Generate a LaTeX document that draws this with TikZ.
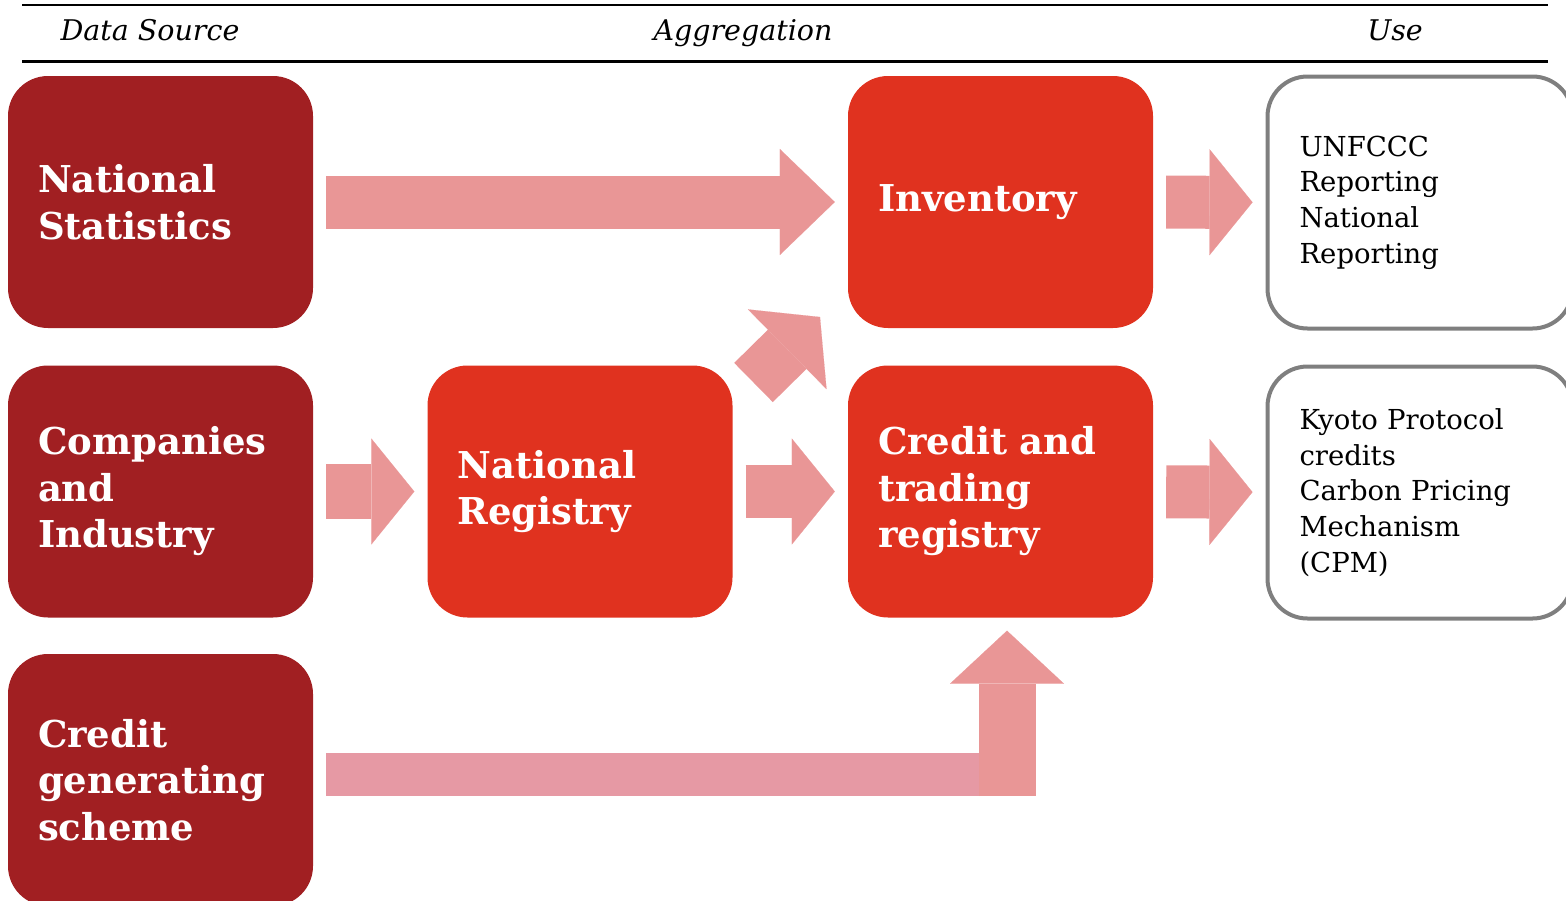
\documentclass[tikz,border=0pt]{standalone}
\usepackage{fontspec}
\setmainfont{DejaVu Serif}
\usetikzlibrary{arrows.meta}

\definecolor{source}{HTML}{A11F22}
\definecolor{aggregate}{HTML}{E0321F}
\definecolor{flowpink}{HTML}{E99696}
\definecolor{flowlow}{HTML}{E699A4}
\definecolor{useedge}{HTML}{7F7F7F}

\tikzset{
  block/.style={rounded corners=40pt, minimum width=305pt, minimum height=252pt,
    text width=245pt, inner xsep=30pt, align=left, text=white,
    font=\fontsize{37}{46.5}\selectfont\bfseries},
  srcbox/.style={block, fill=source},
  aggbox/.style={block, fill=aggregate},
  usebox/.style={block, fill=white, draw=useedge, line width=4pt, text=black,
    inner xsep=32pt, text width=241pt, font=\fontsize{27.5}{35.7}\selectfont},
  headtext/.style={anchor=base, font=\fontsize{28.5}{32}\selectfont\itshape},
  flow/.style={draw=flowpink, line width=53pt, shorten <=13pt, shorten >=13pt,
    -{Triangle[length=55pt, width=106pt, line width=0.1pt]}},
  shortflow/.style={flow, -{Triangle[length=43pt, width=106pt, line width=0.1pt]}},
}

\begin{document}
\begin{tikzpicture}[x=1pt, y=-1pt]
\useasboundingbox (0,0) rectangle (1566,900);

% Header rules and column titles
\draw[line width=1.5pt] (22,5) -- (1548,5);
\draw[line width=3pt] (22,61) -- (1548,61);
\node[headtext] (hsrc) at (150,40) {Data Source};
\node[headtext] (hagg) at (743,40) {Aggregation};
\node[headtext] (huse) at (1395,40) {Use};

% Data sources
\node[srcbox] (ns) at (160.5,202) {National\\Statistics};
\node[srcbox] (ci) at (160.5,491.5) {Companies\\and\\Industry};
\node[srcbox] (cgs) at (160.5,780) {Credit\\generating\\scheme};

% Aggregation
\node[aggbox] (nr) at (580,491.5) {National\\Registry};
\node[aggbox] (inv) at (1000.5,202) {Inventory};
\node[aggbox] (ctr) at (1000.5,491.5) {Credit and\\trading\\registry};

% Use
\node[usebox] (rep) at (1420,202.5) {UNFCCC\\Reporting\\National\\Reporting};
\node[usebox] (kyo) at (1420,492.5) {Kyoto Protocol\\credits\\Carbon Pricing\\Mechanism\\(CPM)};

% Flows
\draw[flow] (ns) -- (inv);
\draw[shortflow, line width=55pt] (ci) -- (nr);
\draw[shortflow] (nr) -- (ctr);
\draw[shortflow] (inv) -- (rep);
\draw[shortflow] (ctr) -- (kyo);

% Registry feeds inventory
\coordinate (dtail) at (753.5,382.5);
\coordinate (dtip) at (820,317);
\draw[flow, line width=55pt, shorten <=0pt, shorten >=0pt,
  -{Triangle[length=46pt, width=112pt, line width=0.1pt]}] (dtail) -- (dtip);

% Credits into the trading registry
\coordinate (elbow) at (1007,774.5);
\coordinate (foot) at (1007,796);
\draw[draw=flowlow, line width=43pt, shorten <=13pt] (cgs.east |- elbow) -- (elbow);
\draw[flow, line width=57pt, shorten <=0pt,
  -{Triangle[length=53pt, width=114pt, line width=0.1pt]}] (foot) -- (ctr.south -| foot);

\end{tikzpicture}
\end{document}
